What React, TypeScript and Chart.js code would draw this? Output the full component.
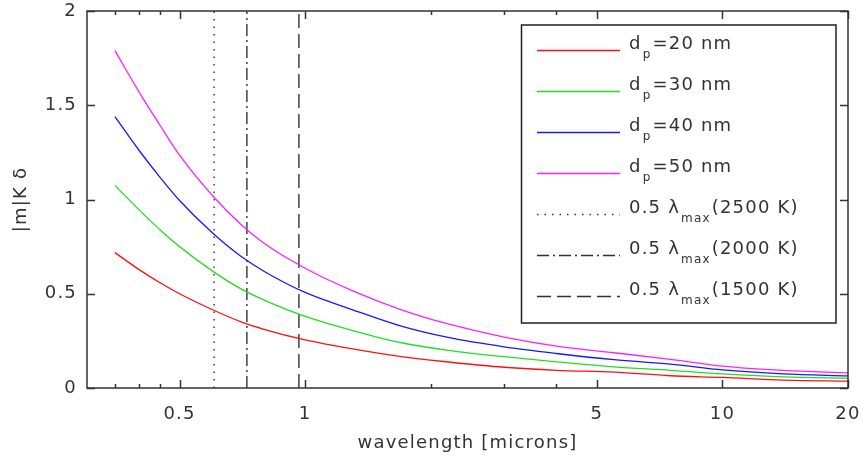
import React, { useEffect, useRef } from 'react';
import { Chart, registerables } from 'chart.js';

Chart.register(...registerables);

// ---- data ----
const wavelengths = [0.35, 0.4, 0.45, 0.5, 0.6, 0.7, 0.8, 1.0, 1.3, 1.7, 2.2, 3, 4, 5.5, 7.5, 10, 14, 20];
const dp20 = [0.718, 0.628, 0.557, 0.5, 0.415, 0.352, 0.31, 0.255, 0.207, 0.166, 0.138, 0.11, 0.094, 0.084, 0.065, 0.056, 0.042, 0.036];
const dp30 = [1.075, 0.945, 0.837, 0.75, 0.62, 0.527, 0.465, 0.38, 0.305, 0.24, 0.2, 0.166, 0.139, 0.112, 0.094, 0.075, 0.059, 0.052];
const dp40 = [1.44, 1.26, 1.115, 0.995, 0.822, 0.7, 0.617, 0.507, 0.415, 0.328, 0.268, 0.218, 0.183, 0.15, 0.127, 0.096, 0.075, 0.064];
const dp50 = [1.79, 1.57, 1.39, 1.235, 1.02, 0.87, 0.765, 0.635, 0.515, 0.415, 0.34, 0.27, 0.222, 0.187, 0.152, 0.116, 0.093, 0.08];

const diameters = [20, 30, 40, 50];
const temperatures = [2500, 2000, 1500];
const lambdaLines = [0.605, 0.725, 0.966];

const xTickValues = [0.35, 0.4, 0.45, 0.5, 1, 2, 3, 4, 5, 10, 20];
const xTickLabels = ['', '', '', '0.5', '1', '', '', '', '5', '10', '20'];
const yTickValues = [0, 0.5, 1, 1.5, 2];
const yTickLabels = ['0', '0.5', '1', '1.5', '2'];

const seriesValues = [dp20, dp30, dp40, dp50];
const seriesColors = ['#ff1010', '#20e020', '#1818ff', '#ff20ff'];
const lineDashes = [[1.5, 6], [12, 4, 2, 4], [14, 6]];

const FONT = 'DejaVu Sans';
const TEXT = '#333333';

const spacingPlugin = {
  id: 'spacing',
  beforeDraw(chart: any) {
    (chart.ctx as any).letterSpacing = '1.2px';
  },
};

const framePlugin = {
  id: 'frame',
  afterDraw(chart: any) {
    const ctx = chart.ctx;
    const { left, right, top, bottom } = chart.chartArea;
    const xs = chart.scales.x;
    const ys = chart.scales.y;
    ctx.save();
    ctx.strokeStyle = '#333333';
    ctx.lineWidth = 1.5;
    ctx.setLineDash([]);
    ctx.beginPath();
    xTickValues.forEach((v, i) => {
      const px = Math.round(xs.getPixelForValue(v)) + 0.5;
      const len = xTickLabels[i] ? 8 : 4;
      ctx.moveTo(px, bottom);
      ctx.lineTo(px, bottom - len);
      ctx.moveTo(px, top);
      ctx.lineTo(px, top + len);
    });
    yTickValues.forEach((v) => {
      const py = Math.round(ys.getPixelForValue(v)) + 0.5;
      ctx.moveTo(left, py);
      ctx.lineTo(left + 8, py);
      ctx.moveTo(right, py);
      ctx.lineTo(right - 8, py);
    });
    ctx.stroke();
    ctx.strokeRect(left, top, right - left, bottom - top);
    ctx.restore();
  },
};

const legendPlugin = {
  id: 'customLegend',
  afterDatasetsDraw(chart: any) {
    const ctx = chart.ctx;
    const boxL = 521.5, boxT = 25, boxR = 836, boxB = 323;
    ctx.save();
    (ctx as any).letterSpacing = '1.2px';
    ctx.fillStyle = '#ffffff';
    ctx.fillRect(boxL, boxT, boxR - boxL, boxB - boxT);
    ctx.strokeStyle = '#222222';
    ctx.lineWidth = 1.5;
    ctx.strokeRect(boxL, boxT, boxR - boxL, boxB - boxT);

    const rows: { main: string; sub: string; rest: string; color: string; dash: number[]; width: number }[] = [];
    diameters.forEach((d, i) => rows.push({ main: 'd', sub: 'p', rest: '=' + d + ' nm', color: seriesColors[i], dash: [], width: 1.3 }));
    temperatures.forEach((t, i) => rows.push({ main: '0.5 λ', sub: 'max', rest: '(' + t + ' K)', color: '#333333', dash: lineDashes[i], width: 1.4 }));

    rows.forEach((r, i) => {
      const y = 50 + i * 41;
      ctx.beginPath();
      ctx.strokeStyle = r.color;
      ctx.lineWidth = r.width;
      ctx.setLineDash(r.dash);
      ctx.moveTo(537, y + 0.5);
      ctx.lineTo(620, y + 0.5);
      ctx.stroke();
      ctx.setLineDash([]);

      ctx.fillStyle = TEXT;
      ctx.textBaseline = 'alphabetic';
      ctx.textAlign = 'left';
      let x = 629;
      ctx.font = '18px "' + FONT + '"';
      ctx.fillText(r.main, x, y - 1);
      x += ctx.measureText(r.main).width + 1;
      ctx.font = '12px "' + FONT + '"';
      ctx.fillText(r.sub, x, y + 8);
      x += ctx.measureText(r.sub).width + 1;
      ctx.font = '18px "' + FONT + '"';
      ctx.fillText(r.rest, x, y - 1);
    });
    ctx.restore();
  },
};

export default function App() {
  const ref = useRef<HTMLCanvasElement | null>(null);
  useEffect(() => {
    if (!ref.current) return;
    const datasets: any[] = seriesValues.map((vals, i) => ({
      label: 'dp=' + diameters[i] + ' nm',
      data: wavelengths.map((w, j) => ({ x: w, y: vals[j] })),
      borderColor: seriesColors[i],
      borderWidth: 1.3,
      pointRadius: 0,
      cubicInterpolationMode: 'monotone',
      fill: false,
    }));
    lambdaLines.forEach((v, i) => {
      datasets.push({
        label: '0.5 λmax(' + temperatures[i] + ' K)',
        data: [{ x: v, y: 0 }, { x: v, y: 2 }],
        borderColor: '#333333',
        borderWidth: 1.4,
        borderDash: lineDashes[i],
        borderCapStyle: 'butt',
        pointRadius: 0,
        fill: false,
      });
    });

    const chart = new Chart(ref.current, {
      type: 'line',
      data: { datasets },
      plugins: [spacingPlugin, legendPlugin, framePlugin],
      options: {
        animation: false,
        responsive: true,
        maintainAspectRatio: false,
        devicePixelRatio: 1,
        layout: { padding: { top: 11, right: 15, left: 0, bottom: 0 } },
        plugins: { legend: { display: false }, tooltip: { enabled: false } },
        scales: {
          x: {
            type: 'logarithmic',
            min: 0.3,
            max: 20,
            afterFit: (s: any) => { s.height = 78; s.paddingLeft = 0; s.paddingRight = 0; },
            afterBuildTicks: (s: any) => { s.ticks = xTickValues.map((v) => ({ value: v })); },
            grid: { display: false, drawTicks: false },
            border: { display: false },
            ticks: {
              autoSkip: false,
              maxRotation: 0,
              padding: 16,
              color: TEXT,
              font: { family: FONT, size: 18 },
              callback: (v: any) => {
                const i = xTickValues.indexOf(Number(v));
                return i >= 0 ? xTickLabels[i] : '';
              },
            },
            title: {
              display: true,
              text: 'wavelength [microns]',
              color: TEXT,
              font: { family: FONT, size: 18 },
              padding: { top: 0, bottom: 12 },
            },
          },
          y: {
            type: 'linear',
            min: 0,
            max: 2,
            afterFit: (s: any) => { s.width = 87; s.paddingTop = 0; s.paddingBottom = 0; },
            afterBuildTicks: (s: any) => { s.ticks = yTickValues.map((v) => ({ value: v })); },
            grid: { display: false, drawTicks: false },
            border: { display: false },
            ticks: {
              padding: 10,
              color: TEXT,
              font: { family: FONT, size: 18 },
              callback: (v: any) => {
                const i = yTickValues.indexOf(Number(v));
                return i >= 0 ? yTickLabels[i] : '';
              },
            },
            title: {
              display: true,
              text: '|m|K δ',
              color: TEXT,
              font: { family: FONT, size: 18 },
              padding: { top: 11, bottom: 0 },
            },
          },
        },
      },
    });
    return () => chart.destroy();
  }, []);

  return (
    <div style={{ position: 'fixed', left: 0, top: 0, width: 863, height: 466, background: '#ffffff' }}>
      <canvas ref={ref} />
    </div>
  );
}
